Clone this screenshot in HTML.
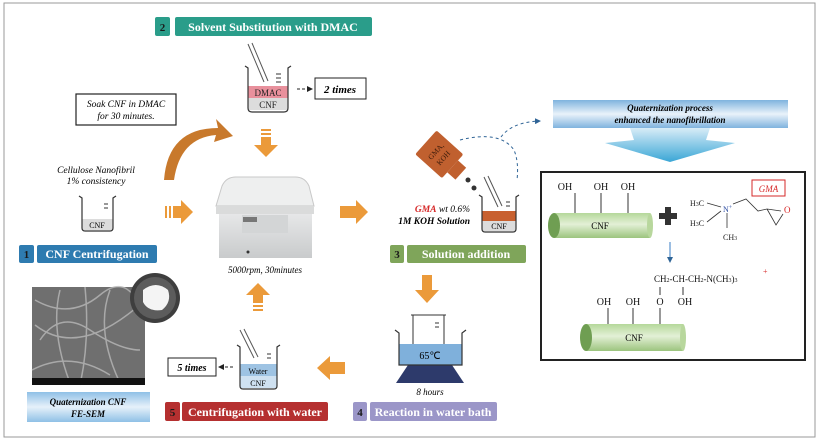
<!DOCTYPE html>
<html><head><meta charset="utf-8"><style>
html,body{margin:0;padding:0;background:#fff;}
svg{display:block;}
text{font-family:"Liberation Serif",serif;}
</style></head><body>
<svg width="819" height="440" viewBox="0 0 819 440" xmlns="http://www.w3.org/2000/svg">
<defs>
<linearGradient id="ban" x1="0" y1="0" x2="0" y2="1"><stop offset="0" stop-color="#7fb3de"/><stop offset="0.5" stop-color="#e9f2fa"/><stop offset="1" stop-color="#7fb3de"/></linearGradient>
<linearGradient id="chev" x1="0" y1="0" x2="0" y2="1"><stop offset="0" stop-color="#d8ecf7"/><stop offset="1" stop-color="#3aa6d6"/></linearGradient>
<linearGradient id="cyl" x1="0" y1="0" x2="0" y2="1"><stop offset="0" stop-color="#b5d89a"/><stop offset="0.45" stop-color="#e3f0d6"/><stop offset="1" stop-color="#9cc47e"/></linearGradient>
<linearGradient id="qbox" x1="0" y1="0" x2="0" y2="1"><stop offset="0" stop-color="#8fc0e6"/><stop offset="0.5" stop-color="#e6f1fa"/><stop offset="1" stop-color="#8fc0e6"/></linearGradient>
<linearGradient id="cent" x1="0" y1="0" x2="0" y2="1"><stop offset="0" stop-color="#e6e7e8"/><stop offset="1" stop-color="#c9cbcc"/></linearGradient>
<marker id="ah" markerWidth="6" markerHeight="6" refX="5" refY="3" orient="auto"><path d="M0,0 L6,3 L0,6z" fill="#222"/></marker>
<marker id="ahb" markerWidth="6" markerHeight="6" refX="5" refY="3" orient="auto"><path d="M0,0 L6,3 L0,6z" fill="#2f6496"/></marker>
</defs>
<rect x="4" y="3" width="811" height="434" fill="#fff" stroke="#999" stroke-width="1"/>

<!-- Step 2 -->
<rect x="155" y="17" width="15" height="19" rx="2" fill="#2a9d8a"/>
<text x="162.5" y="31" font-size="11" font-weight="bold" fill="#1a1a1a" text-anchor="middle">2</text>
<rect x="175" y="17" width="197" height="19" rx="2" fill="#2a9d8a"/>
<text x="273" y="31" font-size="12" font-weight="bold" fill="#fff" text-anchor="middle">Solvent Substitution with DMAC</text>

<!-- DMAC beaker -->
<line x1="248" y1="44" x2="264" y2="82" stroke="#555" stroke-width="1"/>
<line x1="252" y1="43" x2="268" y2="81" stroke="#555" stroke-width="1"/>
<rect x="248" y="86" width="40" height="12" fill="#e8909c"/>
<rect x="248" y="98" width="40" height="12" fill="#dcdcdc"/>
<path d="M245,66 L248,68 L248,108 Q248,112 252,112 L284,112 Q288,112 288,108 L288,68 L291,66" fill="none" stroke="#333" stroke-width="1.2"/>
<line x1="276" y1="74" x2="281" y2="74" stroke="#333"/><line x1="276" y1="78" x2="281" y2="78" stroke="#333"/><line x1="276" y1="82" x2="281" y2="82" stroke="#333"/>
<text x="268" y="96" font-size="9" text-anchor="middle" fill="#222">DMAC</text>
<text x="268" y="108" font-size="9" text-anchor="middle" fill="#222">CNF</text>
<line x1="297" y1="89" x2="312" y2="89" stroke="#222" stroke-dasharray="3,2" marker-end="url(#ah)"/>
<rect x="315" y="78" width="51" height="21" fill="#fff" stroke="#222"/>
<text x="340" y="93" font-size="11" font-style="italic" font-weight="bold" text-anchor="middle">2 times</text>

<!-- soak box -->
<rect x="76" y="94" width="100" height="31" fill="#fff" stroke="#222" stroke-width="1.2"/>
<text x="126" y="107" font-size="9.5" font-style="italic" text-anchor="middle">Soak CNF in DMAC</text>
<text x="126" y="119" font-size="9.5" font-style="italic" text-anchor="middle">for 30 minutes.</text>
<!-- curved arrow -->
<path d="M164,180 Q168,128 218,128 L216,119 L233,136 L214,142 L216,135 Q180,138 174,180 Z" fill="#c8792c"/>
<!-- down arrow -->
<rect x="261" y="129" width="10" height="2" fill="#eb9a3a"/><rect x="261" y="133" width="10" height="2" fill="#eb9a3a"/>
<path d="M261,137 L271,137 L271,145 L278,145 L266,157 L254,145 L261,145Z" fill="#eb9a3a"/>

<!-- cellulose -->
<text x="96" y="173" font-size="9.5" font-style="italic" text-anchor="middle">Cellulose Nanofibril</text>
<text x="96" y="184" font-size="9.5" font-style="italic" text-anchor="middle">1% consistency</text>
<rect x="82" y="219" width="31" height="11" fill="#dcdcdc"/>
<path d="M79,196 L82,198 L82,228 Q82,231 85,231 L110,231 Q113,231 113,228 L113,198 L116,196" fill="none" stroke="#333" stroke-width="1.2"/>
<line x1="104" y1="204" x2="108" y2="204" stroke="#333"/><line x1="104" y1="208" x2="108" y2="208" stroke="#333"/>
<text x="97" y="228" font-size="8" text-anchor="middle">CNF</text>
<rect x="19" y="245" width="15" height="18" rx="2" fill="#2e7bb0"/>
<text x="26.5" y="258" font-size="11" font-weight="bold" fill="#1a1a1a" text-anchor="middle">1</text>
<rect x="37" y="245" width="120" height="18" rx="2" fill="#2e7bb0"/>
<text x="97" y="258" font-size="12" font-weight="bold" fill="#fff" text-anchor="middle">CNF Centrifugation</text>

<!-- arrows around centrifuge -->
<rect x="165" y="206" width="2" height="12" fill="#eb9a3a"/><rect x="169" y="206" width="2" height="12" fill="#eb9a3a"/>
<path d="M173,206 L181,206 L181,200 L193,212 L181,224 L181,218 L173,218Z" fill="#eb9a3a"/>
<path d="M340,206 L356,206 L356,200 L368,212 L356,224 L356,218 L340,218Z" fill="#eb9a3a"/>

<!-- centrifuge -->
<path d="M222,186 Q226,177 236,177 L295,177 Q305,177 309,186 L314,206 L216,206Z" fill="#eeefef" stroke="#c8c8c8"/>
<rect x="216" y="206" width="98" height="8" fill="#dadbdb"/>
<rect x="219" y="214" width="93" height="44" fill="url(#cent)"/>
<rect x="242" y="215" width="46" height="18" fill="#d3d5d6"/>
<rect x="243" y="217" width="14" height="5" fill="#777"/>
<circle cx="248" cy="252" r="1.5" fill="#333"/>
<text x="265" y="273" font-size="9" font-style="italic" text-anchor="middle">5000rpm, 30minutes</text>

<!-- up arrow -->
<path d="M253,303 L253,295 L246,295 L258,283 L270,295 L263,295 L263,303Z" fill="#eb9a3a"/>
<rect x="253" y="305" width="10" height="2" fill="#eb9a3a"/><rect x="253" y="309" width="10" height="2" fill="#eb9a3a"/>

<!-- SEM -->
<rect x="32" y="287" width="113" height="98" fill="#6f6f6f"/>
<g stroke="#b8b8b8" stroke-width="1.5" fill="none" opacity="0.8">
<path d="M35,300 Q70,320 100,295 T145,320"/><path d="M40,340 Q60,310 90,330 T140,350"/><path d="M32,370 Q70,350 110,375"/><path d="M60,290 Q50,330 70,383"/><path d="M110,290 Q95,330 120,383"/><path d="M35,325 Q80,360 145,300"/><path d="M85,287 Q90,340 80,385"/>
</g>
<rect x="32" y="378" width="113" height="7" fill="#111"/>
<circle cx="155" cy="298" r="25" fill="#3e3e3e"/><circle cx="155" cy="298" r="21" fill="#5c5c5c"/>
<path d="M143,290 Q156,280 168,290 Q172,302 162,310 Q148,312 143,302Z" fill="#f4f4f4"/>
<rect x="27" y="392" width="123" height="30" fill="url(#qbox)"/>
<text x="88" y="405" font-size="9" font-style="italic" font-weight="bold" text-anchor="middle">Quaternization CNF</text>
<text x="88" y="417" font-size="9" font-style="italic" font-weight="bold" text-anchor="middle">FE-SEM</text>

<!-- water beaker -->
<line x1="240" y1="330" x2="254" y2="358" stroke="#555"/><line x1="244" y1="329" x2="258" y2="357" stroke="#555"/>
<rect x="240" y="364" width="37" height="12" fill="#9ec3e3"/>
<rect x="240" y="376" width="37" height="12" fill="#cfe1f1"/>
<path d="M237,345 L240,347 L240,386 Q240,389 243,389 L274,389 Q277,389 277,386 L277,347 L280,345" fill="none" stroke="#333" stroke-width="1.2"/>
<line x1="267" y1="354" x2="271" y2="354" stroke="#333"/><line x1="267" y1="358" x2="271" y2="358" stroke="#333"/>
<text x="258" y="374" font-size="8" text-anchor="middle">Water</text>
<text x="258" y="386" font-size="8" text-anchor="middle">CNF</text>
<line x1="233" y1="367" x2="219" y2="367" stroke="#222" stroke-dasharray="3,2" marker-end="url(#ah)"/>
<rect x="168" y="358" width="48" height="18" fill="#fff" stroke="#222"/>
<text x="192" y="371" font-size="10" font-style="italic" font-weight="bold" text-anchor="middle">5 times</text>
<rect x="165" y="402" width="15" height="19" rx="2" fill="#b53030"/>
<text x="172.5" y="416" font-size="11" font-weight="bold" fill="#1a1a1a" text-anchor="middle">5</text>
<rect x="182" y="402" width="146" height="19" rx="2" fill="#b53030"/>
<text x="255" y="416" font-size="12" font-weight="bold" fill="#fff" text-anchor="middle">Centrifugation with water</text>
<path d="M345,362 L330,362 L330,356 L317,368 L330,380 L330,374 L345,374Z" fill="#eb9a3a"/>

<!-- water bath -->
<path d="M408,365 L396,383 L464,383 L452,365Z" fill="#2d3a6b"/>
<rect x="399" y="344" width="63" height="21" fill="#7fb0db"/>
<path d="M395,330 L399,333 L399,365 L462,365 L462,333 L466,330" fill="none" stroke="#333" stroke-width="1.2"/>
<path d="M413,315 L413,344 M444,315 L444,344 M411,315 L446,315" fill="none" stroke="#333"/>
<line x1="435" y1="323" x2="439" y2="323" stroke="#333"/><line x1="435" y1="327" x2="439" y2="327" stroke="#333"/>
<text x="430" y="359" font-size="10" text-anchor="middle">65℃</text>
<text x="430" y="395" font-size="9" font-style="italic" text-anchor="middle">8 hours</text>
<rect x="353" y="402" width="14" height="19" rx="2" fill="#9b96c8"/>
<text x="360" y="416" font-size="11" font-weight="bold" fill="#1a1a1a" text-anchor="middle">4</text>
<rect x="370" y="402" width="127" height="19" rx="2" fill="#9b96c8"/>
<text x="433" y="416" font-size="12" font-weight="bold" fill="#fff" text-anchor="middle">Reaction in water bath</text>
<path d="M422,275 L432,275 L432,290 L439,290 L427,303 L415,290 L422,290Z" fill="#eb9a3a"/>

<!-- step 3 -->
<rect x="390" y="245" width="14" height="18" rx="2" fill="#7fa55a"/>
<text x="397" y="258" font-size="11" font-weight="bold" fill="#1a1a1a" text-anchor="middle">3</text>
<rect x="407" y="245" width="119" height="18" rx="2" fill="#7fa55a"/>
<text x="466" y="258" font-size="12" font-weight="bold" fill="#fff" text-anchor="middle">Solution addition</text>
<text x="470" y="212" font-size="9.5" font-style="italic" text-anchor="end"><tspan fill="#d62828" font-weight="bold">GMA</tspan> wt 0.6%</text>
<text x="470" y="224" font-size="9.5" font-style="italic" font-weight="bold" text-anchor="end">1M KOH Solution</text>
<!-- bottle -->
<g transform="rotate(-48 440 155)">
<rect x="424" y="136" width="32" height="36" rx="2" fill="#c0602f"/>
<rect x="432" y="172" width="16" height="11" fill="#c0602f"/>
<text x="440" y="152" font-size="7.5" fill="#3a1a0a" text-anchor="middle">GMA,</text>
<text x="440" y="162" font-size="7.5" fill="#3a1a0a" text-anchor="middle">KOH</text>
</g>
<circle cx="468" cy="180" r="2.5" fill="#333"/><circle cx="474" cy="188" r="2.5" fill="#333"/>
<!-- beaker 3 -->
<line x1="484" y1="177" x2="498" y2="207" stroke="#555"/><line x1="488" y1="176" x2="502" y2="206" stroke="#555"/>
<rect x="482" y="211" width="34" height="10" fill="#c8602f"/>
<rect x="482" y="221" width="34" height="10" fill="#dcdcdc"/>
<path d="M479,195 L482,197 L482,229 Q482,232 485,232 L513,232 Q516,232 516,229 L516,197 L519,195" fill="none" stroke="#333" stroke-width="1.2"/>
<line x1="506" y1="202" x2="510" y2="202" stroke="#333"/><line x1="506" y1="206" x2="510" y2="206" stroke="#333"/>
<text x="499" y="229" font-size="8" text-anchor="middle">CNF</text>
<path d="M460,140 Q500,130 514,150 Q519,162 517,180" fill="none" stroke="#2f6496" stroke-dasharray="3,3"/>
<path d="M501,137 Q512,122 540,121" fill="none" stroke="#2f6496" stroke-dasharray="3,3" marker-end="url(#ahb)"/>

<!-- banner -->
<rect x="553" y="100" width="235" height="28" fill="url(#ban)"/>
<text x="670" y="111" font-size="9" font-style="italic" font-weight="bold" text-anchor="middle">Quaternization process</text>
<text x="670" y="123" font-size="9" font-style="italic" font-weight="bold" text-anchor="middle">enhanced the nanofibrillation</text>
<path d="M630,128 L710,128 L706,140 L735,143 L670,162 L605,143 L634,140Z" fill="url(#chev)"/>

<!-- reaction box -->
<rect x="541" y="172" width="264" height="188" fill="#fff" stroke="#222" stroke-width="2"/>
<g font-size="10" fill="#111">
<text x="565" y="190" text-anchor="middle">OH</text><text x="601" y="190" text-anchor="middle">OH</text><text x="628" y="190" text-anchor="middle">OH</text>
</g>
<line x1="575" y1="193" x2="575" y2="215" stroke="#333"/><line x1="601" y1="193" x2="601" y2="215" stroke="#333"/><line x1="628" y1="193" x2="628" y2="215" stroke="#333"/>
<rect x="554" y="213" width="96" height="25" fill="url(#cyl)"/>
<ellipse cx="554" cy="225.5" rx="6" ry="12.5" fill="#6f9e52"/>
<ellipse cx="650" cy="225.5" rx="3" ry="12.5" fill="#b8d79d"/>
<text x="600" y="229" font-size="9" text-anchor="middle">CNF</text>
<rect x="665" y="207" width="6" height="18" fill="#333"/><rect x="659" y="213" width="18" height="6" fill="#333"/>
<g font-family="Liberation Sans" font-size="8" fill="#222">
<text x="690" y="206" font-family="Liberation Sans">H<tspan font-size="6">3</tspan>C</text>
<text x="690" y="226" font-family="Liberation Sans">H<tspan font-size="6">3</tspan>C</text>
<text x="723" y="212" font-family="Liberation Sans" fill="#2a4aa0">N<tspan font-size="6" dy="-3">+</tspan></text>
<text x="723" y="240" font-family="Liberation Sans">CH<tspan font-size="6">3</tspan></text>
<text x="784" y="213" font-family="Liberation Sans" fill="#d62828" font-size="9">O</text>
</g>
<path d="M707,203 L721,207 M707,222 L721,211 M727,213 L727,228 M733,204 L746,199 L758,211 L767,209 L781,211 M767,209 L776,225 L783,214" fill="none" stroke="#333" stroke-width="0.8"/>
<rect x="752" y="180" width="33" height="16" fill="#fff" stroke="#d62828"/>
<text x="768.5" y="192" font-size="9" font-style="italic" fill="#d62828" text-anchor="middle">GMA</text>
<line x1="670" y1="242" x2="670" y2="262" stroke="#3a7cc4" marker-end="url(#ahb)"/>
<text x="654" y="282" font-size="9" fill="#111">CH<tspan font-size="6">2</tspan>-CH-CH<tspan font-size="6">2</tspan>-N(CH<tspan font-size="6">3</tspan>)<tspan font-size="6">3</tspan></text>
<text x="763" y="274" font-size="8" fill="#d62828">+</text>
<line x1="660" y1="287" x2="660" y2="295" stroke="#333"/><line x1="683" y1="287" x2="683" y2="295" stroke="#333"/>
<g font-size="10" fill="#111">
<text x="604" y="305" text-anchor="middle">OH</text><text x="633" y="305" text-anchor="middle">OH</text><text x="660" y="305" text-anchor="middle">O</text><text x="685" y="305" text-anchor="middle">OH</text>
</g>
<line x1="608" y1="308" x2="608" y2="325" stroke="#333"/><line x1="633" y1="308" x2="633" y2="325" stroke="#333"/><line x1="660" y1="308" x2="660" y2="325" stroke="#333"/>
<rect x="586" y="324" width="97" height="27" fill="url(#cyl)"/>
<ellipse cx="586" cy="337.5" rx="6" ry="13.5" fill="#6f9e52"/>
<ellipse cx="683" cy="337.5" rx="3" ry="13.5" fill="#b8d79d"/>
<text x="634" y="341" font-size="9" text-anchor="middle">CNF</text>
</svg>
</body></html>
